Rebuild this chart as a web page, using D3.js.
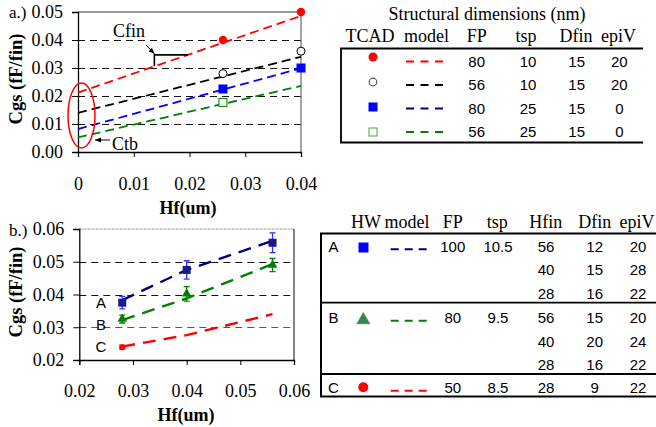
<!DOCTYPE html>
<html lang="en"><head><meta charset="UTF-8">
<title>Cgs vs Hf</title>
<script src="https://cdn.jsdelivr.net/npm/d3@7"></script>
<style>
  body { margin: 0; background: #fff; }
</style>
</head>
<body>
<script>
// ---- data: chart a (TCAD points + model lines) ----
var aHf = [0.026, 0.04];
var aRed = [0.040, 0.050];
var aBlack = [0.028, 0.036];
var aBlue = [0.0225, 0.030];
var aGreenHf = [0.026];
var aGreen = [0.0177];
var aModelHf = [0, 0.04];
var aModelRed = [0.0212, 0.0486];
var aModelBlack = [0.0140, 0.0340];
var aModelBlue = [0.0082, 0.0299];
var aModelGreen = [0.0052, 0.0236];
var aXTicks = [0, 0.01, 0.02, 0.03, 0.04];
var aYTicks = [0, 0.01, 0.02, 0.03, 0.04, 0.05];

// ---- data: chart b (hardware points with error bars + model lines) ----
var bHf = [0.028, 0.04, 0.056];
var bA = [0.0375, 0.0475, 0.0558];
var bAErr = [0.0019, 0.0028, 0.0030];
var bB = [0.0325, 0.0402, 0.0490];
var bBErr = [0.0012, 0.0022, 0.0020];
var bCHf = [0.028];
var bC = [0.0239];
var bCErr = [0.0006];
var bModelA = [0.0383, 0.0475, 0.0564];
var bModelB = [0.0322, 0.0388, 0.0493];
var bModelC = [0.0241, 0.0276, 0.0340];
var bXTicks = [0.02, 0.03, 0.04, 0.05, 0.06];
var bYTicks = [0.02, 0.03, 0.04, 0.05, 0.06];

// ---- table a ----
var tabAHead = ["TCAD", "model", "FP", "tsp", "Dfin", "epiV"];
var tabAFP = ["80", "56", "80", "56"];
var tabATsp = ["10", "10", "25", "25"];
var tabADfin = ["15", "15", "15", "15"];
var tabAEpiV = ["20", "20", "0", "0"];

// ---- table b ----
var tabBHead = ["HW", "model", "FP", "tsp", "Hfin", "Dfin", "epiV"];
var tabBGroups = ["A", "B", "C"];
var tabBFP = ["100", "80", "50"];
var tabBTsp = ["10.5", "9.5", "8.5"];
var tabBHfin = [["56", "40", "28"], ["56", "40", "28"], ["28"]];
var tabBDfin = [["12", "15", "16"], ["15", "20", "16"], ["9"]];
var tabBEpiV = [["20", "28", "22"], ["20", "24", "22"], ["22"]];

var w = 656, h = 427;
var svg = d3.select("body").append("svg").attr("width", w).attr("height", h);

var RED = "#ff0000", BLUE = "#0000ff", NAVY = "#000080", GREEN = "#008000";
var SERIF = "'Liberation Serif', 'Times New Roman', serif";
var SANS = "'Liberation Sans', Arial, sans-serif";

function serif(sel, size, bold) {
  return sel.style("font-family", SERIF).style("font-size", size + "px")
    .style("font-weight", bold ? "bold" : "normal").attr("fill", "#000");
}
function sans(sel, size) {
  return sel.style("font-family", SANS).style("font-size", size + "px").attr("fill", "#000");
}
function line(xs, ys, x, y) {
  return d3.line().x(function(d, i) { return x(xs[i]); }).y(function(d) { return y(d); })(ys);
}

// ================= chart a =================
var xa = d3.scaleLinear().domain([0, 0.04]).range([78, 301]);
var ya = d3.scaleLinear().domain([0, 0.05]).range([152, 12]);
var ga = svg.append("g");

// dashed gridlines
ga.selectAll(".grid").data([0.01, 0.02, 0.03, 0.04]).enter().append("line")
  .attr("x1", xa(0)).attr("x2", xa(0.04))
  .attr("y1", function(d) { return Math.round(ya(d)) + 0.5; }).attr("y2", function(d) { return Math.round(ya(d)) + 0.5; })
  .attr("stroke", "#111").attr("stroke-width", 1).attr("stroke-dasharray", "7,5");
// frame top/right
ga.append("line").attr("x1", xa(0)).attr("x2", xa(0.04)).attr("y1", ya(0.05)).attr("y2", ya(0.05))
  .attr("stroke", "#333").attr("stroke-width", 1.2);
ga.append("line").attr("x1", xa(0.04)).attr("x2", xa(0.04)).attr("y1", ya(0.05)).attr("y2", ya(0))
  .attr("stroke", "#666").attr("stroke-width", 1.2);

var axA = ga.append("g").attr("transform", "translate(0," + ya(0) + ")")
  .call(d3.axisBottom(xa).tickValues(aXTicks).tickSize(5).tickPadding(20)
    .tickFormat(function(d) { return d === 0 ? "0" : d3.format(".2f")(d); }));
var ayA = ga.append("g").attr("transform", "translate(" + xa(0) + ",0)")
  .call(d3.axisLeft(ya).tickValues(aYTicks).tickSize(6).tickPadding(9).tickFormat(d3.format(".2f")));
[axA, ayA].forEach(function(a) {
  a.select(".domain").attr("stroke", "#000").attr("stroke-width", 1.3);
  a.selectAll(".tick line").attr("stroke", "#000");
  serif(a.selectAll("text"), 18);
});

// model lines
[[aModelRed, RED], [aModelBlack, "#000"], [aModelBlue, BLUE], [aModelGreen, GREEN]].forEach(function(m) {
  ga.append("path").attr("d", line(aModelHf, m[0], xa, ya))
    .attr("fill", "none").attr("stroke", m[1]).attr("stroke-width", 1.8).attr("stroke-dasharray", "9,5");
});

// TCAD markers
ga.selectAll(".pr").data(aRed).enter().append("circle")
  .attr("cx", function(d, i) { return xa(aHf[i]); }).attr("cy", function(d) { return ya(d); })
  .attr("r", 4.2).attr("fill", RED);
ga.selectAll(".pk").data(aBlack).enter().append("circle")
  .attr("cx", function(d, i) { return xa(aHf[i]); }).attr("cy", function(d) { return ya(d); })
  .attr("r", 4).attr("fill", "#fff").attr("stroke", "#000").attr("stroke-width", 1);
ga.selectAll(".pb").data(aBlue).enter().append("rect")
  .attr("x", function(d, i) { return xa(aHf[i]) - 4.5; }).attr("y", function(d) { return ya(d) - 4.5; })
  .attr("width", 9).attr("height", 9).attr("fill", BLUE);
ga.selectAll(".pg").data(aGreen).enter().append("rect")
  .attr("x", function(d, i) { return xa(aGreenHf[i]) - 4; }).attr("y", function(d) { return ya(d) - 4; })
  .attr("width", 8).attr("height", 8).attr("fill", "#fff").attr("stroke", GREEN).attr("stroke-width", 1);

// annotations: Ctb ellipse + arrow, Cfin bracket + arrow
var defs = svg.append("defs");
defs.append("marker").attr("id", "ah").attr("viewBox", "0 0 10 10").attr("refX", 10).attr("refY", 5)
  .attr("markerWidth", 6).attr("markerHeight", 6).attr("orient", "auto")
  .append("path").attr("d", "M0,1L10,5L0,9z").attr("fill", "#000");

ga.append("ellipse").attr("cx", 81.5).attr("cy", 115.5).attr("rx", 13.5).attr("ry", 32.5)
  .attr("fill", "none").attr("stroke", RED).attr("stroke-width", 1.5);
ga.append("line").attr("x1", 110).attr("y1", 140).attr("x2", 95).attr("y2", 140)
  .attr("stroke", "#000").attr("stroke-width", 1).attr("marker-end", "url(#ah)");
serif(ga.append("text").attr("x", 112).attr("y", 150), 18).text("Ctb");

var redAt = d3.scaleLinear().domain(aModelHf).range(aModelRed);
var c1 = 0.0137, c2 = 0.0197;
ga.append("path")
  .attr("d", "M" + xa(c1) + "," + ya(redAt(c1)) + "V" + ya(redAt(c2)) + "H" + xa(c2))
  .attr("fill", "none").attr("stroke", "#000").attr("stroke-width", 1.6);
ga.append("line").attr("x1", 146).attr("y1", 45).attr("x2", xa(c1)).attr("y2", ya(redAt(c2)) - 1)
  .attr("stroke", "#000").attr("stroke-width", 1).attr("marker-end", "url(#ah)");
serif(ga.append("text").attr("x", 113).attr("y", 37), 18).text("Cfin");

serif(ga.append("text").attr("x", 9).attr("y", 18), 17).text("a.)");
serif(ga.append("text").attr("transform", "translate(22,79) rotate(-90)")
  .attr("text-anchor", "middle"), 18.5, true).text("Cgs (fF/fin)");
serif(ga.append("text").attr("x", 188).attr("y", 214).attr("text-anchor", "middle"), 18, true).text("Hf(um)");

// ================= table a =================
var ta = svg.append("g");
serif(ta.append("text").attr("x", 487).attr("y", 20).attr("text-anchor", "middle"), 18)
  .text("Structural dimensions (nm)");
var headAX = [370, 426.5, 476.7, 526, 576, 618.5];
serif(ta.selectAll(".ha").data(tabAHead).enter().append("text")
  .attr("x", function(d, i) { return headAX[i]; }).attr("y", 42).attr("text-anchor", "middle"), 18)
  .text(function(d) { return d; });
ta.append("path").attr("d", "M643,48.5H341V142.5H643").attr("fill", "none").attr("stroke", "#000").attr("stroke-width", 1.8);

var rowA = d3.scaleLinear().domain([0, 3]).range([66.5, 137]);
var colsA = [[tabAFP, 476.7], [tabATsp, 528], [tabADfin, 576.7], [tabAEpiV, 619.3]];
colsA.forEach(function(c) {
  sans(ta.selectAll(null).data(c[0]).enter().append("text")
    .attr("x", c[1]).attr("y", function(d, i) { return rowA(i); }).attr("text-anchor", "middle"), 15)
    .text(function(d) { return d; });
});
var keyA = [
  { c: RED, shape: "dot" }, { c: "#000", shape: "ring" }, { c: NAVY, shape: "sq" }, { c: GREEN, shape: "osq" }
];
keyA.forEach(function(k, i) {
  var my = 57 + i * 25, dy = rowA(i) - 5;
  if (k.shape === "dot") ta.append("circle").attr("cx", 373).attr("cy", my).attr("r", 4.5).attr("fill", RED);
  if (k.shape === "ring") ta.append("circle").attr("cx", 373).attr("cy", my).attr("r", 3.8).attr("fill", "#fff").attr("stroke", "#555").attr("stroke-width", 1.2);
  if (k.shape === "sq") ta.append("rect").attr("x", 368.5).attr("y", my - 4.5).attr("width", 9).attr("height", 9).attr("fill", BLUE);
  if (k.shape === "osq") ta.append("rect").attr("x", 369).attr("y", my - 4).attr("width", 8).attr("height", 8).attr("fill", "#fff").attr("stroke", "#4a4").attr("stroke-width", 1);
  ta.append("line").attr("x1", 406).attr("x2", 447).attr("y1", dy).attr("y2", dy)
    .attr("stroke", k.c).attr("stroke-width", 2).attr("stroke-dasharray", "8,6.5");
});

// ================= chart b =================
var xb = d3.scaleLinear().domain([0.02, 0.06]).range([79.3, 294]);
var yb = d3.scaleLinear().domain([0.02, 0.06]).range([360, 229]);
var gb = svg.append("g");

gb.selectAll(".grid").data([0.03, 0.04, 0.05]).enter().append("line")
  .attr("x1", xb(0.02)).attr("x2", xb(0.06))
  .attr("y1", function(d) { return Math.round(yb(d)) + 0.5; }).attr("y2", function(d) { return Math.round(yb(d)) + 0.5; })
  .attr("stroke", function(d) { return d === 0.03 ? "#555" : "#111"; }).attr("stroke-width", 1).attr("stroke-dasharray", "7,5");
gb.append("line").attr("x1", xb(0.02)).attr("x2", xb(0.06)).attr("y1", yb(0.06)).attr("y2", yb(0.06))
  .attr("stroke", "#999").attr("stroke-width", 1).attr("stroke-dasharray", "3,1");
gb.append("line").attr("x1", xb(0.06)).attr("x2", xb(0.06)).attr("y1", yb(0.06)).attr("y2", yb(0.02))
  .attr("stroke", "#333").attr("stroke-width", 1.2);

var axB = gb.append("g").attr("transform", "translate(0," + yb(0.02) + ")")
  .call(d3.axisBottom(xb).tickValues(bXTicks).tickSize(5).tickPadding(19).tickFormat(d3.format(".2f")));
var ayB = gb.append("g").attr("transform", "translate(" + xb(0.02) + ",0)")
  .call(d3.axisLeft(yb).tickValues(bYTicks).tickSize(6).tickPadding(9).tickFormat(d3.format(".2f")));
[axB, ayB].forEach(function(a) {
  a.select(".domain").attr("stroke", "#000").attr("stroke-width", 1.3);
  a.selectAll(".tick line").attr("stroke", "#000");
  serif(a.selectAll("text"), 18);
});

// model lines
[[bModelA, NAVY], [bModelB, GREEN], [bModelC, RED]].forEach(function(m) {
  gb.append("path").attr("d", line(bHf, m[0], xb, yb))
    .attr("fill", "none").attr("stroke", m[1]).attr("stroke-width", 2.4).attr("stroke-dasharray", "13,8");
});

// error bars
function errBars(xs, ys, es, col) {
  ys.forEach(function(v, i) {
    var cx = xb(xs[i]);
    gb.append("path")
      .attr("d", "M" + cx + "," + yb(v - es[i]) + "V" + yb(v + es[i]) +
        "M" + (cx - 3) + "," + yb(v - es[i]) + "h6M" + (cx - 3) + "," + yb(v + es[i]) + "h6")
      .attr("stroke", col).attr("stroke-width", 1.3).attr("fill", "none");
  });
}
errBars(bHf, bA, bAErr, "#3333ff");
errBars(bHf, bB, bBErr, GREEN);
errBars(bCHf, bC, bCErr, RED);

gb.selectAll(".ma").data(bA).enter().append("rect")
  .attr("x", function(d, i) { return xb(bHf[i]) - 4; }).attr("y", function(d) { return yb(d) - 4; })
  .attr("width", 8).attr("height", 8).attr("fill", "#1a1a8c");
gb.selectAll(".mb").data(bB).enter().append("path")
  .attr("transform", function(d, i) { return "translate(" + xb(bHf[i]) + "," + yb(d) + ")"; })
  .attr("d", d3.symbol().type(d3.symbolTriangle).size(40)).attr("fill", GREEN);
gb.selectAll(".mc").data(bC).enter().append("circle")
  .attr("cx", function(d, i) { return xb(bCHf[i]); }).attr("cy", function(d) { return yb(d); })
  .attr("r", 3).attr("fill", RED);

var abcY = [307.7, 330, 351.7];
sans(gb.selectAll(".lab").data(tabBGroups).enter().append("text")
  .attr("x", 101).attr("y", function(d, i) { return abcY[i]; }).attr("text-anchor", "middle"), 15)
  .text(function(d) { return d; });

serif(gb.append("text").attr("x", 9).attr("y", 236), 17).text("b.)");
serif(gb.append("text").attr("transform", "translate(22,292) rotate(-90)")
  .attr("text-anchor", "middle"), 18.5, true).text("Cgs (fF/fin)");
serif(gb.append("text").attr("x", 186).attr("y", 421).attr("text-anchor", "middle"), 18, true).text("Hf(um)");

// ================= table b =================
var tb = svg.append("g");
var headBX = [366, 407, 452.7, 497.3, 545.8, 594.7, 637];
serif(tb.selectAll(".hb").data(tabBHead).enter().append("text")
  .attr("x", function(d, i) { return headBX[i]; }).attr("y", 227.7).attr("text-anchor", "middle"), 18)
  .text(function(d) { return d; });

tb.append("path").attr("d", "M660,233.5H321V396.5H660").attr("fill", "none").attr("stroke", "#000").attr("stroke-width", 2);
tb.selectAll(".sep").data([302.7, 374]).enter().append("line")
  .attr("x1", 321).attr("x2", 660).attr("y1", function(d) { return d; }).attr("y2", function(d) { return d; })
  .attr("stroke", "#000").attr("stroke-width", 1.8);

var rowB = 23.4;
var groupTop = [251.7, 323.3, 393.3];
var groupCol = [NAVY, GREEN, RED];
tabBGroups.forEach(function(g, gi) {
  var y0 = groupTop[gi];
  sans(tb.append("text").attr("x", 333.5).attr("y", y0).attr("text-anchor", "middle"), 15).text(g);
  sans(tb.append("text").attr("x", 452.8).attr("y", y0).attr("text-anchor", "middle"), 15).text(tabBFP[gi]);
  sans(tb.append("text").attr("x", 498).attr("y", y0).attr("text-anchor", "middle"), 15).text(tabBTsp[gi]);
  [[tabBHfin[gi], 546], [tabBDfin[gi], 594.7], [tabBEpiV[gi], 638]].forEach(function(c) {
    sans(tb.selectAll(null).data(c[0]).enter().append("text")
      .attr("x", c[1]).attr("y", function(d, i) { return y0 + i * rowB; }).attr("text-anchor", "middle"), 15)
      .text(function(d) { return d; });
  });
  tb.append("line").attr("x1", 390.7).attr("x2", 430).attr("y1", y0 - 2.5).attr("y2", y0 - 2.5)
    .attr("stroke", groupCol[gi]).attr("stroke-width", 2).attr("stroke-dasharray", "8,6");
});
tb.append("rect").attr("x", 358.5).attr("y", 242.5).attr("width", 10).attr("height", 10).attr("fill", BLUE);
tb.append("path").attr("transform", "translate(363.3,320)")
  .attr("d", d3.symbol().type(d3.symbolTriangle).size(80)).attr("fill", "#2e8b57").attr("stroke", "#b08a40").attr("stroke-width", 0.5);
tb.append("circle").attr("cx", 363.3).attr("cy", 387.3).attr("r", 5).attr("fill", RED);
</script>
</body></html>
